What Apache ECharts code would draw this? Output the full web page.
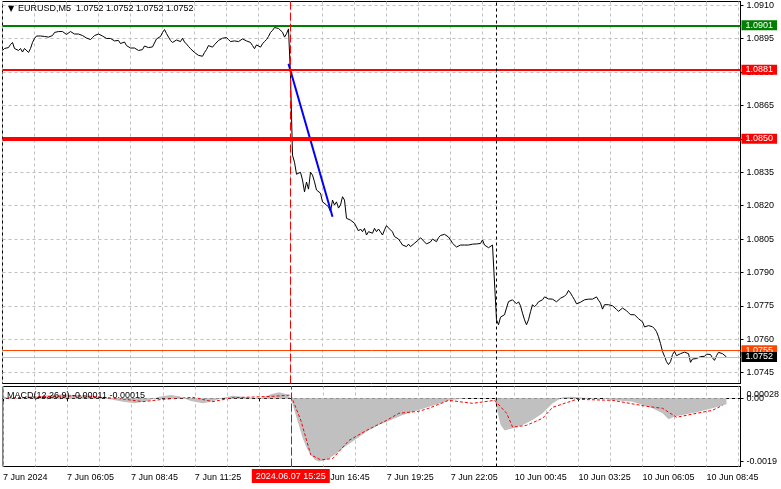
<!DOCTYPE html>
<html><head><meta charset="utf-8">
<script src="https://cdn.jsdelivr.net/npm/echarts@6/dist/echarts.min.js"></script>
<style>html,body{margin:0;padding:0;background:#fff}#c{width:781px;height:489px}</style>
</head><body><div id="c"></div>
<script>
// ---------- data ----------
const symbolTitle = 'EURUSD,M5  1.0752 1.0752 1.0752 1.0752';
const macdTitle = 'MACD(12,26,9) -0.00011 -0.00015';
const barCount = 370;          // visible bar slots (incl. empty right margin)
const mondayStartBar = 247;    // first bar of 10 Jun session
const markerBar = 144;         // 2024.06.07 15:25
const markerLabel = '2024.06.07 15:25';
const xTickLabels = ['7 Jun 2024','7 Jun 06:05','7 Jun 08:45','7 Jun 11:25','7 Jun 14:05','7 Jun 16:45',
  '7 Jun 19:25','7 Jun 22:05','10 Jun 00:45','10 Jun 03:25','10 Jun 06:05','10 Jun 08:45'];
const priceTicks = [1.0745,1.0760,1.0775,1.0790,1.0805,1.0820,1.0835,1.0850,1.0865,1.0880,1.0895,1.0910];
const macdTicks = [0, -0.0019];
const macdTickLabels = ['0.00','-0.0019'];
const macdMaxValue = 0.00028;
const macdMaxLabel = '0.00028';

// closes, 7 Jun 03:25 .. 15:20
const closesFriAM = [
1.08897,1.08906,1.08906,1.08910,1.08924,1.08933,1.08906,1.08910,1.08897,1.08906,
1.08890,1.08906,1.08910,1.08888,1.08906,1.08933,1.08951,1.08962,1.08964,1.08962,
1.08960,1.08960,1.08960,1.08957,1.08960,1.08964,1.08978,1.08982,1.08982,1.08984,
1.08982,1.08978,1.08969,1.08973,1.08982,1.08978,1.08971,1.08973,1.08971,1.08966,
1.08964,1.08960,1.08953,1.08949,1.08946,1.08955,1.08964,1.08969,1.08971,1.08969,
1.08962,1.08955,1.08951,1.08949,1.08951,1.08951,1.08940,1.08937,1.08942,1.08928,
1.08933,1.08935,1.08919,1.08913,1.08908,1.08904,1.08908,1.08906,1.08897,1.08899,
1.08901,1.08917,1.08913,1.08910,1.08905,1.08913,1.08919,1.08949,1.08942,1.08960,
1.08978,1.08991,1.08973,1.08957,1.08942,1.08933,1.08927,1.08944,1.08949,1.08937,
1.08952,1.08935,1.08926,1.08915,1.08905,1.08897,1.08888,1.08884,1.08875,1.08867,
1.08871,1.08888,1.08901,1.08919,1.08926,1.08912,1.08923,1.08931,1.08942,1.08949,
1.08952,1.08949,1.08955,1.08946,1.08937,1.08934,1.08940,1.08940,1.08937,1.08944,
1.08949,1.08949,1.08940,1.08942,1.08933,1.08919,1.08905,1.08922,1.08919,1.08912,
1.08927,1.08937,1.08946,1.08960,1.08978,1.08987,1.09000,1.08998,1.08996,1.08994,
1.08979,1.08957,1.08972,1.08994];
// closes, 7 Jun 15:25 .. 23:55
const closesFriPM = [
1.08785,1.08427,1.08395,1.08341,1.08337,1.08350,1.08315,1.08262,1.08306,1.08274,
1.08350,1.08337,1.08307,1.08270,1.08270,1.08256,1.08217,1.08210,1.08203,1.08194,
1.08173,1.08225,1.08203,1.08217,1.08189,1.08203,1.08240,1.08225,1.08143,1.08140,
1.08135,1.08135,1.08121,1.08128,1.08086,1.08095,1.08083,1.08098,1.08068,1.08083,
1.08082,1.08076,1.08098,1.08083,1.08095,1.08082,1.08068,1.08091,1.08110,1.08100,
1.08091,1.08082,1.08061,1.08059,1.08050,1.08037,1.08023,1.08023,1.08016,1.08027,
1.08016,1.08023,1.08031,1.08037,1.08046,1.08056,1.08050,1.08037,1.08028,1.08020,
1.08037,1.08050,1.08044,1.08038,1.08056,1.08066,1.08068,1.08071,1.08068,1.08059,
1.08046,1.08031,1.08023,1.08014,1.08014,1.08023,1.08023,1.08023,1.08023,1.08023,
1.08026,1.08027,1.08030,1.08028,1.08020,1.08030,1.08046,1.08023,1.08017,1.08011,
1.08016,1.08023,1.08016];
// closes, 10 Jun 00:00 .. 09:35
const closesMon = [
1.07687,1.07665,1.07699,1.07691,1.07710,1.07740,1.07769,1.07762,1.07777,1.07770,
1.07759,1.07768,1.07750,1.07717,1.07687,1.07665,1.07687,1.07723,1.07755,1.07746,
1.07755,1.07768,1.07773,1.07777,1.07790,1.07792,1.07781,1.07777,1.07780,1.07775,
1.07768,1.07773,1.07784,1.07792,1.07793,1.07802,1.07819,1.07807,1.07792,1.07777,
1.07759,1.07761,1.07766,1.07769,1.07777,1.07780,1.07780,1.07780,1.07780,1.07780,
1.07790,1.07775,1.07762,1.07735,1.07755,1.07757,1.07755,1.07748,1.07750,1.07743,
1.07734,1.07725,1.07729,1.07740,1.07734,1.07728,1.07719,1.07710,1.07705,1.07710,
1.07703,1.07692,1.07684,1.07678,1.07655,1.07661,1.07661,1.07658,1.07656,1.07647,
1.07634,1.07611,1.07580,1.07545,1.07523,1.07499,1.07486,1.07499,1.07531,1.07545,
1.07526,1.07533,1.07535,1.07538,1.07542,1.07550,1.07535,1.07496,1.07511,1.07506,
1.07513,1.07519,1.07522,1.07523,1.07523,1.07533,1.07541,1.07531,1.07516,1.07505,
1.07526,1.07541,1.07538,1.07535,1.07531,1.07520];

// horizontal levels
const levelValues = [1.0901, 1.0881, 1.0850, 1.0755, 1.0752];
const levelLabels = ['1.0901','1.0881','1.0850','1.0755','1.0752'];
// drawn trend line (bar index, price)
const trendBars = [143, 165];
const trendPrices = [1.08837, 1.08150];

// MACD main (histogram) samples: bar index, value
const macdBars = [0,10,20,30,40,50,60,66,72,78,84,88,94,100,104,110,115,120,126,130,134,138,142,144,
  146,148,150,152,154,156,158,162,166,170,176,182,188,194,200,208,216,224,232,240,246,
  247,249,251,255,260,265,270,275,280,285,290,300,305,315,320,325,330,333,336,340,347,355,362];
const macdVals = [0.00003,0.00000,0.00008,0.00012,0.00008,0.00002,-0.00010,-0.00015,-0.00008,0.00005,0.00010,0.00006,-0.00008,-0.00015,-0.00010,0.00002,0.00008,0.00005,0.00000,0.00002,0.00012,0.00018,0.00012,0.00000,
  -0.00040,-0.00080,-0.00120,-0.00150,-0.00170,-0.00185,-0.00190,-0.00185,-0.00170,-0.00150,-0.00125,-0.00100,-0.00080,-0.00065,-0.00050,-0.00035,-0.00020,-0.00005,0.00000,0.00000,0.00000,
  -0.00030,-0.00080,-0.00097,-0.00090,-0.00080,-0.00065,-0.00045,-0.00015,0.00003,0.00005,0.00002,0.00000,-0.00005,-0.00010,-0.00020,-0.00030,-0.00045,-0.00063,-0.00055,-0.00050,-0.00042,-0.00030,-0.00018];
// MACD signal samples
const signalBars = [0,20,40,60,70,80,95,105,115,125,135,144,149,154,159,165,173,182,192,198,208,213,223,235,246,
  252,255,262,270,275,287,305,322,330,337,347,355,360];
const signalVals = [0.00000,0.00005,0.00008,-0.00002,-0.00010,-0.00003,0.00003,-0.00010,0.00002,0.00004,0.00006,0.00010,-0.00066,-0.00170,-0.00185,-0.00181,-0.00127,-0.00096,-0.00066,-0.00045,-0.00039,-0.00030,-0.00006,-0.00015,-0.00006,
  -0.00045,-0.00087,-0.00081,-0.00060,-0.00027,-0.00003,-0.00006,-0.00024,-0.00030,-0.00057,-0.00045,-0.00036,-0.00021];

// ---------- build ----------
const closes = closesFriAM.concat(closesFriPM, closesMon);
const pad = n => (n < 10 ? '0' : '') + n;
const categories = [];
for (let i = 0; i < barCount; i++) {
  let day, m;
  if (i < mondayStartBar) { day = 7; m = 3 * 60 + 25 + 5 * i; } else { day = 10; m = 5 * (i - mondayStartBar); }
  categories.push(day + ' Jun ' + pad(Math.floor(m / 60)) + ':' + pad(m % 60));
}
const FONT = 'Liberation Sans, Arial, sans-serif';
const gridLineStyle = { color: '#c0c0c0', type: [3, 3], width: 1 };
const levelStyles = [
  { line: { color: '#008000', width: 2, type: 'solid' }, bg: '#008000' },
  { line: { color: '#ff0000', width: 2, type: 'solid' }, bg: '#ff0000' },
  { line: { color: '#ff0000', width: 4, type: 'solid' }, bg: '#ff0000' },
  { line: { color: '#ff4500', width: 1, type: 'solid' }, bg: '#ff4500' },
  { line: { color: '#c0c0c0', width: 1, type: 'solid' }, bg: '#000000' }
];
const levelMarks = levelValues.map((v, i) => ({
  yAxis: v,
  lineStyle: levelStyles[i].line,
  label: { show: true, position: 'end', formatter: levelLabels[i], distance: 1,
    backgroundColor: levelStyles[i].bg, color: '#fff', padding: [1, 4, 0, 4], fontSize: 9, fontFamily: FONT }
}));
const makeVMarks = () => [
  { xAxis: markerBar, lineStyle: { color: '#ff0000', width: 1, type: [8, 3] }, label: { show: false } },
  { xAxis: mondayStartBar, lineStyle: { color: '#000000', width: 1, type: [3, 3] }, label: { show: false } }
];

const chart = echarts.init(document.getElementById('c'), null, { renderer: 'canvas' });
const option = {
  animation: false,
  backgroundColor: '#ffffff',
  grid: [
    { left: 2.5, top: 1.5, width: 738, height: 382, show: true, borderColor: '#000', borderWidth: 1 },
    { left: 2.5, top: 386.5, width: 738, height: 80, show: true, borderColor: '#000', borderWidth: 1 }
  ],
  xAxis: [
    { gridIndex: 0, type: 'category', data: categories, boundaryGap: false,
      axisLine: { show: false }, axisTick: { show: false }, axisLabel: { show: false },
      splitLine: { show: true, interval: 15, lineStyle: gridLineStyle } },
    { gridIndex: 1, type: 'category', data: categories, boundaryGap: false,
      axisLine: { show: true, lineStyle: { color: '#000' } },
      axisTick: { show: true, interval: 31, length: 3, lineStyle: { color: '#000' } },
      axisLabel: { show: true, interval: 31, align: 'left', margin: 7, color: '#000', fontSize: 9, fontFamily: FONT,
        formatter: (v, i) => xTickLabels[Math.round(i / 32)] },
      splitLine: { show: true, interval: 15, lineStyle: gridLineStyle } }
  ],
  yAxis: [
    { gridIndex: 0, type: 'value', position: 'right', min: 1.07401, max: 1.09117,
      axisLine: { show: true, lineStyle: { color: '#000' } },
      axisTick: { show: true, length: 3, customValues: priceTicks, lineStyle: { color: '#000' } },
      axisLabel: { show: true, customValues: priceTicks, margin: 6, color: '#000', fontSize: 9, fontFamily: FONT,
        hideOverlap: false, formatter: v => v.toFixed(4) },
      splitLine: { show: true, lineStyle: gridLineStyle } },
    { gridIndex: 1, type: 'value', position: 'right', min: -0.00205, max: 0.000356,
      axisLine: { show: true, lineStyle: { color: '#000' } },
      axisTick: { show: true, length: 3, customValues: macdTicks, lineStyle: { color: '#000' } },
      axisLabel: { show: true, customValues: macdTicks, margin: 6, color: '#000', fontSize: 9, fontFamily: FONT,
        formatter: v => { const i = macdTicks.findIndex(t => Math.abs(t - v) < 1e-9); return i >= 0 ? macdTickLabels[i] : ''; } },
      splitLine: { show: false } }
  ],
  series: [
    { name: 'close', type: 'line', xAxisIndex: 0, yAxisIndex: 0, data: closes, showSymbol: false, symbol: 'none',
      lineStyle: { color: '#000', width: 1 }, z: 3,
      markLine: { silent: true, symbol: 'none', animation: false, precision: 6, data: levelMarks.concat(makeVMarks()) } },
    { name: 'trend', type: 'line', xAxisIndex: 0, yAxisIndex: 0, showSymbol: false, symbol: 'none',
      data: trendBars.map((b, i) => [b, trendPrices[i]]), lineStyle: { color: '#0000ff', width: 2 }, z: 4 },
    { name: 'macd', type: 'line', xAxisIndex: 1, yAxisIndex: 1, showSymbol: false, symbol: 'none',
      data: macdBars.map((b, i) => [b, macdVals[i]]), lineStyle: { width: 0, color: '#c0c0c0' },
      areaStyle: { color: '#c0c0c0', opacity: 1 }, z: 2,
      markLine: { silent: true, symbol: 'none', animation: false, precision: 8, data: [
        { yAxis: 0, lineStyle: { color: '#c0c0c0', width: 1, type: [3, 3] }, label: { show: false } }
      ].concat(makeVMarks()) } },
    { name: 'signal', type: 'line', xAxisIndex: 1, yAxisIndex: 1, showSymbol: false, symbol: 'none',
      data: signalBars.map((b, i) => [b, signalVals[i]]), lineStyle: { color: '#ff0000', width: 1, type: [3, 2] }, z: 3 }
  ]
};
chart.setOption(option);

const mx = chart.convertToPixel({ xAxisIndex: 1 }, markerBar);
const axisX = chart.convertToPixel({ xAxisIndex: 1 }, barCount - 1);
const maxY = chart.convertToPixel({ yAxisIndex: 1 }, macdMaxValue);
chart.setOption({
  graphic: [
    { type: 'text', left: 8, top: 5, z: 100, style: { text: '▼', fontSize: 8, fill: '#000', fontFamily: 'DejaVu Sans' } },
    { type: 'text', left: 18, top: 4, z: 100, style: { text: symbolTitle, fontSize: 9, fill: '#000', fontFamily: FONT } },
    { type: 'text', left: 7, top: 391, z: 100, style: { text: macdTitle, fontSize: 9, fill: '#000', fontFamily: FONT } },
    { type: 'text', z: 100, style: { text: macdMaxLabel, x: axisX + 6, y: maxY + 5, verticalAlign: 'middle',
        fontSize: 9, fill: '#000', fontFamily: FONT } },
    { type: 'rect', z: 100, shape: { x: mx - 39, y: 469, width: 78, height: 14 }, style: { fill: '#ff0000' } },
    { type: 'text', z: 101, style: { text: markerLabel, x: mx, y: 476.5, align: 'center', verticalAlign: 'middle',
        fontSize: 9, fill: '#fff', fontFamily: FONT } }
  ]
});
</script></body></html>
